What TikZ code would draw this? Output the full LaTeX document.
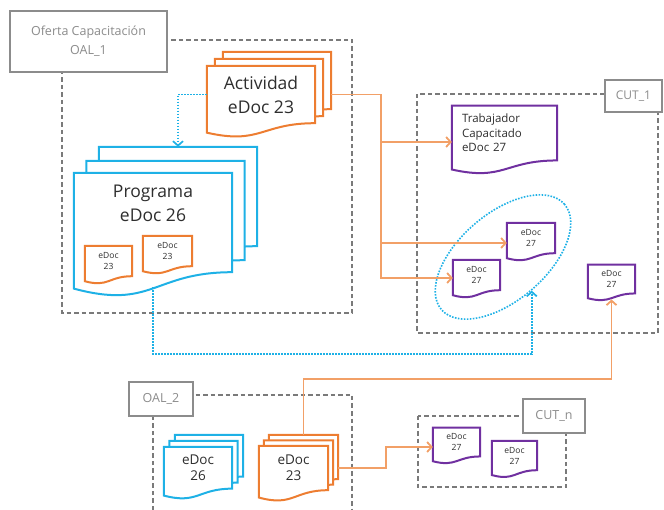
\documentclass[tikz,border=0pt]{standalone}
\usepackage{fontspec}
\setmainfont{Open Sans}
\usetikzlibrary{shapes.geometric, arrows.meta, positioning, calc, backgrounds}

\definecolor{docorange}{HTML}{ED7D31}
\definecolor{lineorange}{HTML}{F2A067}
\definecolor{docblue}{HTML}{1EB1E6}
\definecolor{docpurple}{HTML}{7030A0}
\definecolor{zonegray}{HTML}{7A7A7A}
\definecolor{labelgray}{HTML}{8C8C8C}

% wavy document outline around a named node
\newcommand{\docshape}[2]{%
  \draw[#2] (#1.north west) -- (#1.north east) -- (#1.south east)
    .. controls (#1.south) and ($(#1.north)!1.38!(#1.south)$)
    .. ($(#1.north west)!1.165!(#1.south west)$) -- cycle;}

\begin{document}
\begin{tikzpicture}[x=1pt, y=-1pt,
    docbox/.style 2 args={inner sep=0pt, align=center, minimum width=#1, minimum height=#2, text=black!82},
    orangedoc/.style={draw=docorange, line width=2pt, fill=white},
    bluedoc/.style={draw=docblue, line width=2pt, fill=white},
    purpledoc/.style={draw=docpurple, line width=2pt, fill=white},
    tag/.style={draw=labelgray, line width=1.4pt, fill=white, text=labelgray, inner sep=0pt, align=center},
    zone/.style={draw=zonegray, line width=1.4pt, dash pattern=on 4.5pt off 3pt},
    oarrow/.style={draw=lineorange, line width=1.8pt, -{Straight Barb[length=4.5pt,width=10pt]}},
    barrow/.style={draw=docblue, line width=1.7pt, dash pattern=on 1.6pt off 1.4pt, -{Straight Barb[length=4.5pt,width=10pt]}},
    bigtxt/.style={font=\fontsize{17.5}{24}\selectfont},
    midtxt/.style={font=\fontsize{13.5}{16}\selectfont},
    smalltxt/.style={font=\fontsize{8.5}{11}\selectfont}
]
\useasboundingbox (0,0) rectangle (664,510);

% dashed zones
\draw[zone] (62,40) rectangle (352,313);
\draw[zone] (417,94) rectangle (658,333);
\draw[zone] (153,510) |- (352,395) -- (352,510);
\draw[zone] (418,416) rectangle (566,487);

% zone labels
\node[tag, minimum width=157pt, minimum height=61pt, font=\fontsize{12.5}{19}\selectfont] (oal1) at (88.5,41.5) {Oferta Capacitación\\OAL\_1};
\node[tag, minimum width=57pt, minimum height=32pt, font=\fontsize{12}{14}\selectfont] (cut1) at (633.5,96) {CUT\_1};
\node[tag, minimum width=64pt, minimum height=34pt, font=\fontsize{12.5}{15}\selectfont] (oal2) at (161,399) {OAL\_2};
\node[tag, minimum width=62pt, minimum height=34pt, font=\fontsize{12.5}{15}\selectfont] (cutn) at (554,416) {CUT\_n};

% OAL_1 documents
\node[docbox={108pt}{57pt}, bigtxt] (act) at (261,94.5) {Actividad\\eDoc 23};
\node[docbox={108pt}{57pt}] (act2) at ([shift={(8pt,7pt)}]act.center) {};
\node[docbox={108pt}{57pt}] (act3) at ([shift={(16pt,14pt)}]act.center) {};

\node[docbox={158pt}{99pt}] (prog) at (153,222.5) {};
\node[docbox={158pt}{99pt}] (prog2) at ([shift={(12.5pt,12pt)}]prog.center) {};
\node[docbox={158pt}{99pt}] (prog3) at ([shift={(25pt,26pt)}]prog.center) {};
\node[bigtxt, align=center, text=black!82, inner sep=0pt] (progtxt) at (153,203.5) {Programa\\eDoc 26};
\node[docbox={47pt}{30pt}, smalltxt] (sub1) at (108.5,261) {eDoc\\23};
\node[docbox={49pt}{30pt}, smalltxt] (sub2) at (167.5,251) {eDoc\\23};

% CUT_1 documents
\node[docbox={105pt}{54.5pt}, text width=85pt, inner xsep=10pt, align=left, font=\fontsize{11.5}{14.5}\selectfont] (trab) at (504.5,133) {Trabajador\\Capacitado\\eDoc 27};
\node[docbox={48pt}{30pt}, smalltxt] (doca) at (531,238) {eDoc\\27};
\node[docbox={47pt}{30pt}, smalltxt] (docb) at (476.5,275) {eDoc\\27};
\node[docbox={47pt}{28.5pt}, smalltxt] (docc) at (611.5,279) {eDoc\\27};
\node[draw=docblue, line width=1.6pt, dash pattern=on 1.6pt off 1.4pt, ellipse, rotate=40.5,
      minimum width=162pt, minimum height=87pt, inner sep=0pt] (grp) at (503,257) {};

% OAL_2 documents
\node[docbox={68pt}{41.5pt}, midtxt] (d26) at (198,467.7) {eDoc\\26};
\node[docbox={68pt}{41.5pt}] (d26b) at ([shift={(5.5pt,6pt)}]d26.center) {};
\node[docbox={68pt}{41.5pt}] (d26c) at ([shift={(11pt,12pt)}]d26.center) {};
\node[docbox={69pt}{44pt}, midtxt] (d23) at (293.5,468) {eDoc\\23};
\node[docbox={69pt}{44pt}] (d23b) at ([shift={(5pt,5.5pt)}]d23.center) {};
\node[docbox={69pt}{44pt}] (d23c) at ([shift={(10pt,11pt)}]d23.center) {};

% CUT_n documents
\node[docbox={47pt}{28.5pt}, smalltxt] (docd) at (456.5,442) {eDoc\\27};
\node[docbox={45pt}{29pt}, smalltxt] (doce) at (514.5,455.5) {eDoc\\27};

% outlines behind the texts
\begin{scope}[on background layer]
  \docshape{act3}{orangedoc}
  \docshape{act2}{orangedoc}
  \docshape{act}{orangedoc}
  \docshape{prog3}{bluedoc}
  \docshape{prog2}{bluedoc}
  \docshape{prog}{bluedoc}
  \docshape{sub1}{orangedoc}
  \docshape{sub2}{orangedoc}
  \docshape{trab}{purpledoc}
  \docshape{doca}{purpledoc}
  \docshape{docb}{purpledoc}
  \docshape{docc}{purpledoc}
  \docshape{d26c}{bluedoc}
  \docshape{d26b}{bluedoc}
  \docshape{d26}{bluedoc}
  \docshape{d23c}{orangedoc}
  \docshape{d23b}{orangedoc}
  \docshape{d23}{orangedoc}
  \docshape{docd}{purpledoc}
  \docshape{doce}{purpledoc}
\end{scope}

% connectors
\coordinate (split) at (381,94);
\coordinate (intrab) at ([yshift=-9pt]trab.west);
\coordinate (ina) at ([yshift=-5pt]doca.west);
\coordinate (inb) at ([yshift=-3pt]docb.west);
\coordinate (inc) at ([yshift=-6pt]docc.south);
\coordinate (ind) at ([yshift=-5pt]docd.west);
\coordinate (hirun) at (0,379);
\coordinate (lowrun) at (0,354);
\coordinate (progbot) at ([yshift=-15pt]prog.south);

\draw[oarrow] (act.east -| act3.east) -| (split |- inb) -- (inb);
\draw[oarrow] (split |- intrab) -- (intrab);
\draw[oarrow] (split |- ina) -- (ina);
\draw[oarrow] (d23c.north) -- (d23c.north |- hirun) -| (inc);
\draw[oarrow] (d23.east -| d23c.east) -- ++(48,0) |- (ind);

\draw[barrow] (act.west) -| (prog3.north);
\draw[barrow] (progbot) |- (grp.south |- lowrun) -- (grp.south);

\end{tikzpicture}
\end{document}
